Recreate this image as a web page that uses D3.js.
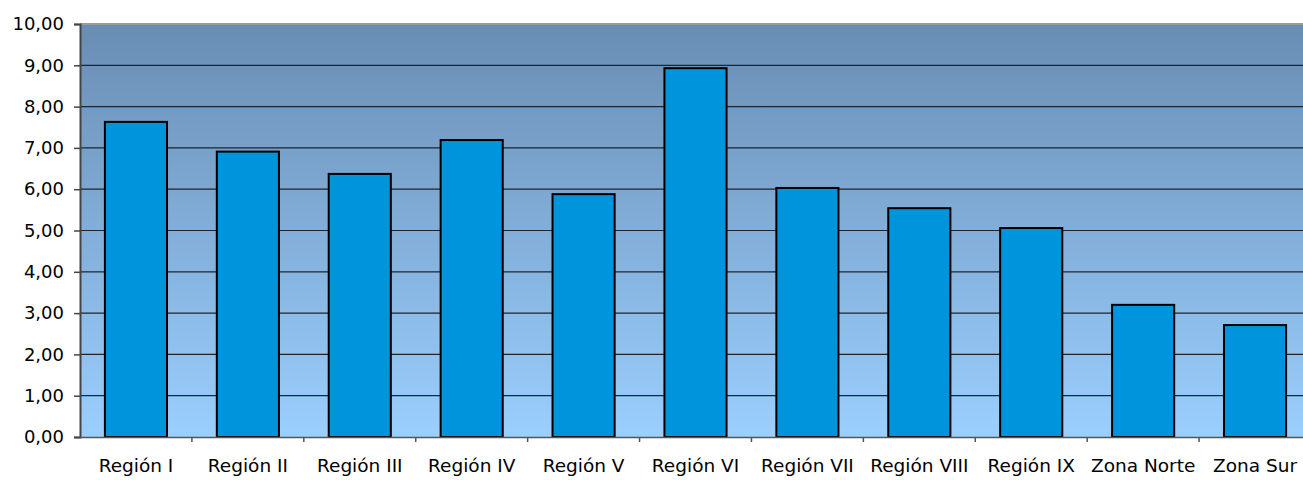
<!DOCTYPE html>
<html><head><meta charset="utf-8">
<script src="https://cdn.jsdelivr.net/npm/d3@7"></script>
<style>body{margin:0;background:#fff}svg{display:block}</style>
</head><body>
<svg id="c" width="1303" height="480"></svg>
<script>
const categories = ["Región I","Región II","Región III","Región IV","Región V","Región VI","Región VII","Región VIII","Región IX","Zona Norte","Zona Sur"];
const values = [7.63, 6.91, 6.37, 7.19, 5.88, 8.93, 6.03, 5.54, 5.06, 3.20, 2.71];
const yTicks = [0,1,2,3,4,5,6,7,8,9,10];

const svg = d3.select("#c");
const m = {left:80, top:24, right:1311, bottom:437};
const x = d3.scaleBand().domain(categories).range([m.left, m.right]).paddingInner(0.445).paddingOuter(0.2225);
const xt = d3.scaleBand().domain(categories).range([m.left, m.right]);
const y = d3.scaleLinear().domain([0,10]).range([m.bottom, m.top]);
const fmt = v => d3.format(".2f")(v).replace(".", ",");

const defs = svg.append("defs");
const g = defs.append("linearGradient").attr("id","bg").attr("x1",0).attr("y1",0).attr("x2",0).attr("y2",1);
g.append("stop").attr("offset","0%").attr("stop-color","#698db3");
g.append("stop").attr("offset","100%").attr("stop-color","#9bcffe");

svg.append("rect").attr("x",m.left).attr("y",m.top).attr("width",m.right-m.left).attr("height",m.bottom-m.top).attr("fill","url(#bg)");

// gridlines
svg.append("g").selectAll("line").data(yTicks.filter(d=>d>0 && d<10)).join("line")
  .attr("x1",m.left).attr("x2",m.right).attr("y1",d=>y(d)).attr("y2",d=>y(d))
  .attr("stroke","#1c2530").attr("stroke-width",1.2);
// top border
svg.append("line").attr("x1",m.left).attr("x2",m.right).attr("y1",m.top).attr("y2",m.top).attr("stroke","#9a9a9a").attr("stroke-width",2);

// bars
svg.append("g").selectAll("rect").data(values).join("rect")
  .attr("x",(d,i)=>x(categories[i])).attr("width",x.bandwidth())
  .attr("y",d=>y(d)).attr("height",d=>y(0)-y(d))
  .attr("fill","#0094dd").attr("stroke","#000").attr("stroke-width",2);

// y axis
const ya = svg.append("g").attr("transform",`translate(${m.left},0)`)
  .call(d3.axisLeft(y).tickValues(yTicks).tickFormat(fmt).tickSize(6).tickPadding(10));
ya.select(".domain").attr("stroke","#444").attr("stroke-width",2);
ya.selectAll(".tick line").attr("stroke","#444").attr("stroke-width",1.5);
ya.selectAll("text").attr("font-family","DejaVu Sans, Verdana, sans-serif").attr("font-size",18).attr("fill","#000");

// x axis
const xa = svg.append("g").attr("transform",`translate(0,${m.bottom})`)
  .call(d3.axisBottom(xt).tickSize(0).tickPadding(22));
xa.select(".domain").attr("stroke","#555").attr("stroke-width",1.5);
xa.selectAll("text").attr("font-family","DejaVu Sans, Verdana, sans-serif").attr("font-size",18.5).attr("fill","#000");
// separator ticks between categories
svg.append("g").selectAll("line").data(categories.slice(1)).join("line")
  .attr("x1",d=>xt(d)).attr("x2",d=>xt(d)).attr("y1",m.bottom).attr("y2",m.bottom+5)
  .attr("stroke","#555").attr("stroke-width",1.5);
</script>
</body></html>
